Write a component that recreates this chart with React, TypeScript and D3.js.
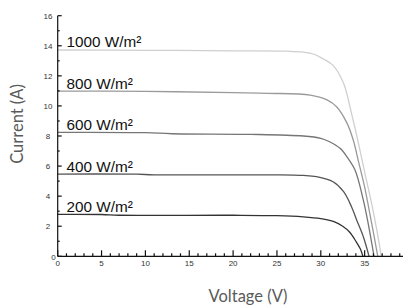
import * as d3 from 'd3'

const W = 403
const H = 306

// I-V curves: [voltage (V), current (A)]
const curve1000: [number, number][] = [
  [0, 13.72], [10, 13.7], [20, 13.66], [26, 13.64], [28, 13.58], [29.3, 13.42], [30.3, 13.12],
  [31.4, 12.7], [32.6, 11.5], [33.5, 9.5], [34.3, 7.5], [35.0, 5.6], [35.8, 3.5], [36.4, 1.7], [36.9, 0],
]
const curve800: [number, number][] = [
  [0, 10.99], [10, 10.97], [20, 10.88], [24, 10.84], [28.8, 10.72], [30.7, 10.4], [31.8, 9.95],
  [33.0, 8.84], [33.7, 7.73], [34.3, 6.3], [35.0, 4.6], [35.7, 2.5], [36.5, 0],
]
const curve600: [number, number][] = [
  [0, 8.24], [10, 8.22], [13, 8.15], [22, 8.11], [28, 8.0], [30, 7.85], [31, 7.62], [32.2, 7.18],
  [33.0, 6.6], [33.9, 5.74], [34.85, 3.74], [35.4, 2.19], [36.07, 0],
]
const curve400: [number, number][] = [
  [0, 5.47], [9, 5.46], [11, 5.42], [25, 5.42], [28, 5.38], [29.5, 5.3], [31.4, 4.96],
  [32.6, 4.3], [33.5, 3.3], [34.1, 2.4], [34.85, 1.3], [35.5, 0],
]
const curve200: [number, number][] = [
  [0, 2.79], [5, 2.78], [7, 2.73], [20, 2.73], [25, 2.7], [28, 2.62], [30, 2.5], [31.5, 2.3],
  [32.5, 2.0], [33.3, 1.6], [34, 1.0], [34.5, 0.5], [34.8, 0],
]

const labels = ['1000 W/m²', '800 W/m²', '600 W/m²', '400 W/m²', '200 W/m²']
const colors = ['#cfcfcf', '#9a9a9a', '#767676', '#555555', '#333333']
const curves = [curve1000, curve800, curve600, curve400, curve200]

const xMajor = [0, 5, 10, 15, 20, 25, 30, 35]
const xMinor = d3.range(0, 41, 1)
const yMajor = [0, 2, 4, 6, 8, 10, 12, 14, 16]
const yMinor = d3.range(1, 16, 2)

export default function App() {
  const x = d3.scaleLinear().domain([0, 40]).range([57.7, 408.5])
  const y = d3.scaleLinear().domain([0, 16]).range([256.3, 15.7])
  const line = d3.line<[number, number]>().x((d) => x(d[0])).y((d) => y(d[1])).curve(d3.curveCatmullRom.alpha(0.5))
  const tickFont = 'Liberation Sans, Arial, sans-serif'

  return (
    <div style={{ position: 'fixed', left: 0, top: 0 }}>
      <svg width={W} height={H} style={{ display: 'block', background: '#fff' }}>
        {/* curves */}
        {curves.map((c, i) => (
          <path key={i} d={line(c) ?? ''} fill="none" stroke={colors[i]} strokeWidth={1.3} />
        ))}

        {/* curve labels */}
        {curves.map((c, i) => (
          <text key={i} x={66.5} y={y(c[0][1]) - 2.5} fontFamily={tickFont} fontSize={15.3} fill="#111">
            {labels[i]}
          </text>
        ))}

        {/* axes */}
        <g stroke="#111" strokeWidth={1.2} fill="none">
          <line x1={x(0)} x2={W} y1={y(0)} y2={y(0)} />
          <line x1={x(0)} x2={x(0)} y1={y(16)} y2={y(0)} />
          {xMinor.map((v) => (
            <line key={'xm' + v} x1={x(v)} x2={x(v)} y1={y(0)} y2={y(0) - (v % 5 === 0 ? 6 : 3)} />
          ))}
          {yMajor.map((v) => (
            <line key={'ym' + v} x1={x(0)} x2={x(0) + 4} y1={y(v)} y2={y(v)} />
          ))}
          {yMinor.map((v) => (
            <line key={'yn' + v} x1={x(0)} x2={x(0) + 2} y1={y(v)} y2={y(v)} />
          ))}
        </g>

        {/* tick labels */}
        <g fontFamily={tickFont} fontSize={8} fill="#333" textAnchor="middle">
          {xMajor.map((v) => (
            <text key={'xl' + v} x={x(v)} y={265.5}>{v}</text>
          ))}
          {yMajor.map((v) => (
            <text key={'yl' + v} x={v === 0 ? 53.4 : 48} y={v === 0 ? y(v) + 4 : y(v) + 2.8}>{v}</text>
          ))}
        </g>

        {/* axis titles */}
        <text x={248} y={302} textAnchor="middle" fontFamily="Lato, sans-serif" fontSize={16.5} fill="#5a5a5a">
          Voltage (V)
        </text>
        <text transform="translate(23,124) rotate(-90)" textAnchor="middle" fontFamily="Lato, sans-serif" fontSize={16.5} fill="#5a5a5a">
          Current (A)
        </text>
      </svg>
    </div>
  )
}
